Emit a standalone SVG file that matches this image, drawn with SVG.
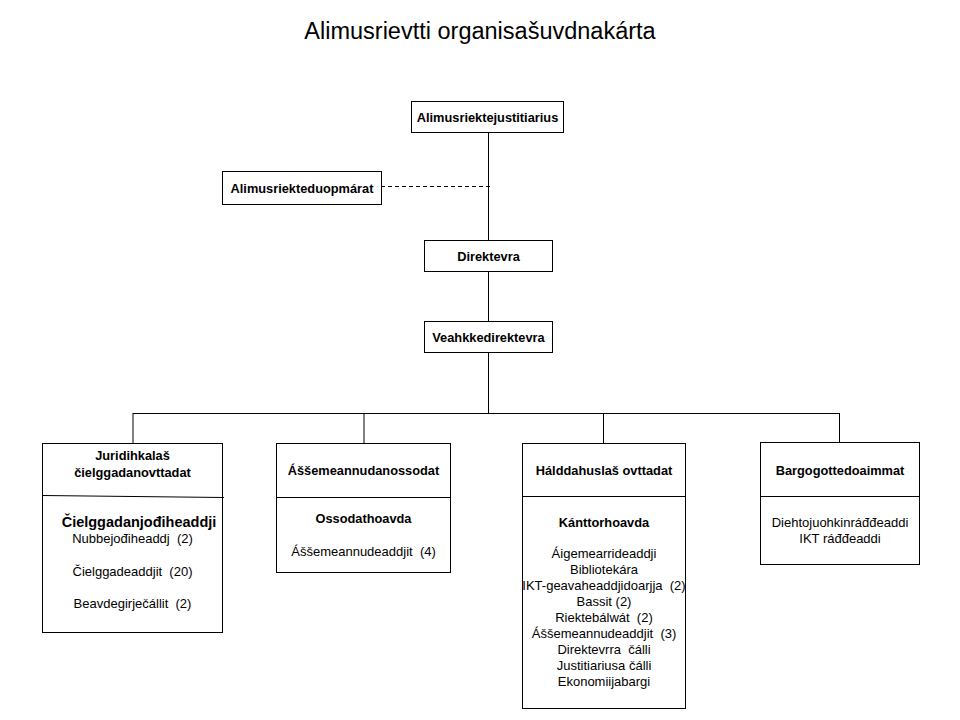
<svg xmlns="http://www.w3.org/2000/svg" width="960" height="720" viewBox="0 0 960 720">
<style>
.box{fill:#fff;stroke:#000;stroke-width:1}
.ln{stroke:#000;stroke-width:1;fill:none}
.b{font-family:"Liberation Sans",Arial,sans-serif;font-weight:bold;font-size:12.8px;text-anchor:middle;fill:#000}
.r{font-family:"Liberation Sans",Arial,sans-serif;font-size:13px;text-anchor:middle;fill:#000;white-space:pre}
.t{font-family:"Liberation Sans",Arial,sans-serif;font-size:23.5px;text-anchor:middle;fill:#000}
</style>
<rect width="960" height="720" fill="#fff"/>
<text class="t" x="480" y="39">Alimusrievtti organisašuvdnakárta</text>
<g id="connectors">
<path class="ln" d="M488.5 132 V240 M488.5 271 V321 M488.5 352 V413 M133 413.5 H839 M133 413 V443 M364 413 V443 M603.5 413 V443 M839.5 413 V442"/>
<path class="ln" d="M381 186.5 H491" stroke-dasharray="4,3"/>
</g>
<g id="n1"><rect class="box" x="411.5" y="101.5" width="152" height="31"/><text class="b" x="487.5" y="121.5">Alimusriektejustitiarius</text></g>
<g id="n2"><rect class="box" x="222.5" y="171.5" width="159" height="33"/><text class="b" x="302" y="192.5">Alimusriekteduopmárat</text></g>
<g id="n3"><rect class="box" x="424.5" y="240.5" width="128" height="31"/><text class="b" x="488.5" y="260.5">Direktevra</text></g>
<g id="n4"><rect class="box" x="424.5" y="321.5" width="128" height="31"/><text class="b" x="488.5" y="341.5">Veahkkedirektevra</text></g>
<g id="nA">
<rect class="box" x="42.5" y="443.5" width="180" height="189"/>
<path class="ln" d="M42.5 495.5 L224 497.5"/>
<text class="b" x="132.5" y="460">Juridihkalaš</text>
<text class="b" x="132.5" y="477">čielggadanovttadat</text>
<text class="b" x="139" y="527" style="font-size:14.5px">Čielggadanjođiheaddji</text>
<text class="r" x="132.5" y="543">Nubbejođiheaddj  (2)</text>
<text class="r" x="132.5" y="576">Čielggadeaddjit  (20)</text>
<text class="r" x="132.5" y="608">Beavdegirječállit  (2)</text>
</g>
<g id="nB">
<rect class="box" x="276.5" y="443.5" width="174" height="129"/>
<path class="ln" d="M276.5 497.5 H450.5"/>
<text class="b" x="363.5" y="475">Áššemeannudanossodat</text>
<text class="b" x="363.5" y="523">Ossodathoavda</text>
<text class="r" x="363.5" y="556">Áššemeannudeaddjit  (4)</text>
</g>
<g id="nC">
<rect class="box" x="522.5" y="443.5" width="163" height="265"/>
<path class="ln" d="M522.5 496.5 H685.5"/>
<text class="b" x="604" y="475">Hálddahuslaš ovttadat</text>
<text class="b" x="604" y="527">Kánttorhoavda</text>
<text class="r" x="604" y="558">Áigemearrideaddji</text>
<text class="r" x="604" y="574">Bibliotekára</text>
<text class="r" x="604" y="590">IKT-geavaheaddjidoarjja  (2)</text>
<text class="r" x="604" y="606">Bassit (2)</text>
<text class="r" x="604" y="622">Riektebálwát  (2)</text>
<text class="r" x="604" y="638">Áššemeannudeaddjit  (3)</text>
<text class="r" x="604" y="654">Direktevrra  čálli</text>
<text class="r" x="604" y="670">Justitiariusa čálli</text>
<text class="r" x="604" y="686">Ekonomiijabargi</text>
</g>
<g id="nD">
<rect class="box" x="760.5" y="442.5" width="159" height="122"/>
<path class="ln" d="M760.5 496.5 H919.5"/>
<text class="b" x="840" y="475">Bargogottedoaimmat</text>
<text class="r" x="840" y="527">Diehtojuohkinráđđeaddi</text>
<text class="r" x="840" y="543">IKT ráđđeaddi</text>
</g>
</svg>
